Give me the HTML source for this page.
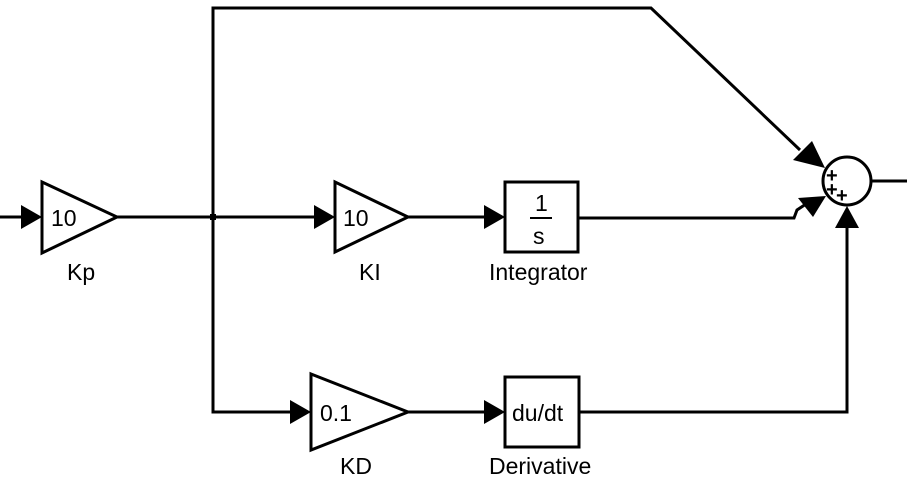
<!DOCTYPE html>
<html><head><style>body{margin:0;background:#fff}svg{display:block}text{font-family:"Liberation Sans",Arial,sans-serif;fill:#000}</style></head><body>
<svg width="907" height="480" viewBox="0 0 907 480" xmlns="http://www.w3.org/2000/svg">
<g fill="none" stroke="#000" stroke-width="3">
<line x1="0" y1="217" x2="25" y2="217"/>
<polygon points="42,182 117,217 42,253"/>
<polyline points="117,217 315,217"/>
<polyline points="213,217 213,8 651,8 800,150"/>
<polyline points="213,217 213,412 290,412"/>
<polygon points="335,182 408,217 335,252"/>
<line x1="408" y1="217" x2="485" y2="217"/>
<rect x="505" y="182" width="73" height="70"/>
<polyline points="578,218 794,218 797,210 806,204"/>
<polygon points="311,374 408,412 311,450"/>
<line x1="408" y1="412" x2="485" y2="412"/>
<rect x="505" y="377" width="74" height="70"/>
<polyline points="579,412 847,412 847,225"/>
<circle cx="847" cy="181" r="24"/>
<line x1="871" y1="181" x2="907" y2="181"/>
</g>
<rect x="210" y="214" width="6" height="6" fill="#000"/>
<g fill="#000">
<polygon points="42,217 21,205 21,229"/>
<polygon points="335,217 314,205 314,229"/>
<polygon points="505,217 484,205 484,229"/>
<polygon points="311,412 290,400 290,424"/>
<polygon points="505,412 484,400 484,424"/>
<polygon points="847,206 835,228 859,228"/>
<polygon points="825,168 812,141 793,160"/>
<polygon points="826,196 798,198 813,217"/>
</g>
<g font-size="20" font-weight="bold">
<text x="826" y="182">+</text><text x="826" y="196">+</text><text x="836" y="202">+</text>
</g>
<g font-size="23">
<text x="51" y="226">10</text>
<text x="343" y="226">10</text>
<text x="320" y="421">0.1</text>
<text x="512" y="421">du/dt</text>
<text x="535" y="211">1</text>
<text x="533" y="244">s</text>
<text x="67" y="280">Kp</text>
<text x="359" y="280">KI</text>
<text x="489" y="280">Integrator</text>
<text x="340" y="474">KD</text>
<text x="489" y="474">Derivative</text>
</g>
<line x1="530" y1="218" x2="552" y2="218" stroke="#000" stroke-width="2"/>
</svg>
</body></html>
